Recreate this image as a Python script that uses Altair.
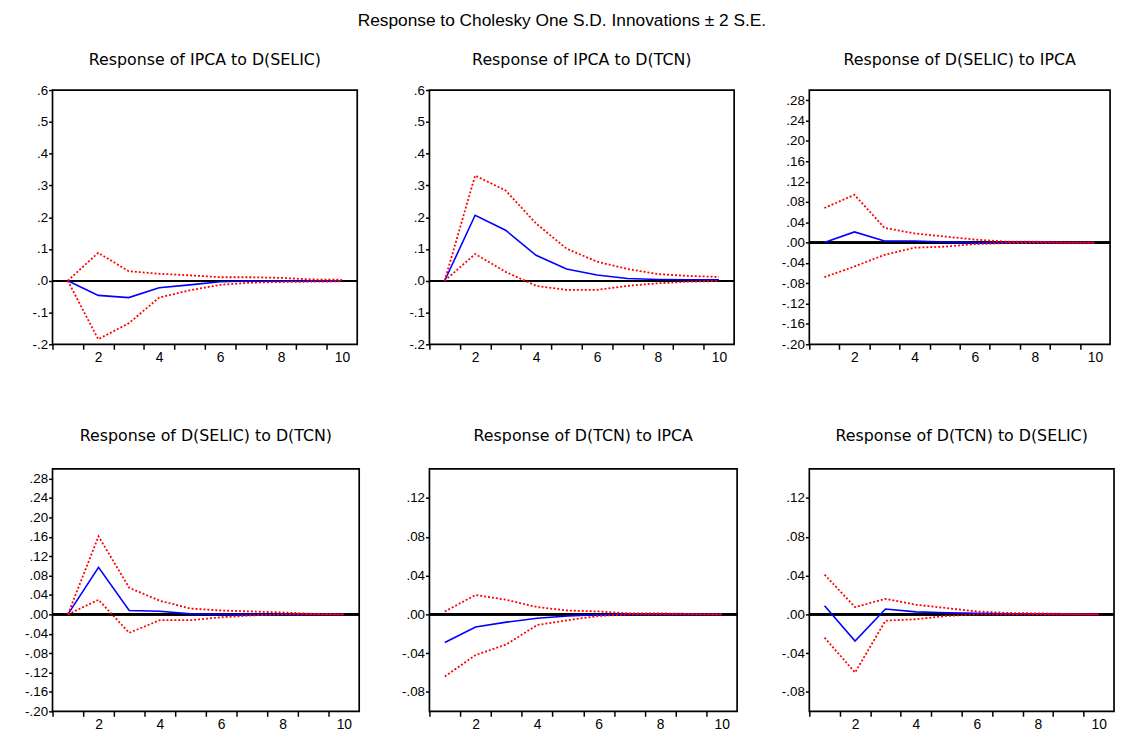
import altair as alt
import pandas as pd

steps = [1, 2, 3, 4, 5, 6, 7, 8, 9, 10]
x_tick_values = [0.5, 1.5, 2.5, 3.5, 4.5, 5.5, 6.5, 7.5, 8.5, 9.5]

main_title = "Response to Cholesky One S.D. Innovations \u00b1 2 S.E."

titles = [
    "Response of IPCA to D(SELIC)",
    "Response of IPCA to D(TCN)",
    "Response of D(SELIC) to IPCA",
    "Response of D(SELIC) to D(TCN)",
    "Response of D(TCN) to IPCA",
    "Response of D(TCN) to D(SELIC)",
]

# responses (blue) and +/- 2 S.E. bands (red, dotted)
resp_1 = [0.000, -0.046, -0.053, -0.022, -0.013, -0.003, -0.001, -0.001, 0.000, 0.000]
upper_1 = [0.000, 0.088, 0.030, 0.022, 0.017, 0.011, 0.011, 0.009, 0.004, 0.003]
lower_1 = [0.000, -0.184, -0.134, -0.053, -0.030, -0.013, -0.006, -0.004, -0.003, -0.002]

resp_2 = [0.000, 0.206, 0.159, 0.080, 0.037, 0.018, 0.007, 0.004, 0.003, 0.003]
upper_2 = [0.000, 0.331, 0.284, 0.180, 0.101, 0.060, 0.037, 0.021, 0.015, 0.012]
lower_2 = [0.000, 0.084, 0.028, -0.016, -0.029, -0.029, -0.016, -0.008, -0.003, -0.001]

resp_3 = [0.000, 0.021, 0.003, 0.003, 0.001, 0.000, 0.000, 0.000, 0.000, 0.000]
upper_3 = [0.068, 0.094, 0.029, 0.018, 0.012, 0.006, 0.002, 0.002, 0.000, 0.000]
lower_3 = [-0.068, -0.047, -0.024, -0.010, -0.008, -0.003, -0.001, 0.000, 0.000, 0.000]

resp_4 = [0.000, 0.097, 0.008, 0.0065, 0.001, 0.000, 0.000, 0.000, 0.000, 0.000]
upper_4 = [0.000, 0.161, 0.055, 0.028, 0.012, 0.008, 0.006, 0.004, 0.001, 0.000]
lower_4 = [0.000, 0.030, -0.038, -0.012, -0.012, -0.006, -0.002, 0.000, 0.000, 0.000]

resp_5 = [-0.029, -0.013, -0.008, -0.004, -0.0016, -0.0003, 0.000, 0.000, 0.000, 0.000]
upper_5 = [0.003, 0.020, 0.015, 0.0075, 0.004, 0.003, 0.001, 0.001, 0.0005, 0.000]
lower_5 = [-0.064, -0.042, -0.031, -0.011, -0.006, -0.0016, 0.000, 0.000, 0.000, 0.000]

resp_6 = [0.009, -0.0276, 0.0055, 0.0026, 0.0016, 0.001, 0.0005, 0.0003, 0.000, 0.000]
upper_6 = [0.041, 0.0075, 0.016, 0.010, 0.0065, 0.003, 0.0015, 0.001, 0.0005, 0.000]
lower_6 = [-0.024, -0.060, -0.0065, -0.005, -0.0016, 0.000, 0.000, 0.000, 0.000, 0.000]

yticks_a = [-0.2, -0.1, 0.0, 0.1, 0.2, 0.3, 0.4, 0.5, 0.6]
yticks_b = [-0.20, -0.16, -0.12, -0.08, -0.04, 0.00, 0.04, 0.08, 0.12, 0.16, 0.20, 0.24, 0.28]
yticks_c = [-0.08, -0.04, 0.00, 0.04, 0.08, 0.12]

ydom_a = [-0.2, 0.6]
ydom_b = [-0.2, 0.3]
ydom_c = [-0.1, 0.15]

panels = [
    dict(title=titles[0], resp=resp_1, upper=upper_1, lower=lower_1, dom=ydom_a, ticks=yticks_a, fmt=".1f", w=308, h=257, ext=44, toff=15),
    dict(title=titles[1], resp=resp_2, upper=upper_2, lower=lower_2, dom=ydom_a, ticks=yticks_a, fmt=".1f", w=308, h=257, ext=40, toff=15),
    dict(title=titles[2], resp=resp_3, upper=upper_3, lower=lower_3, dom=ydom_b, ticks=yticks_b, fmt=".2f", w=304, h=257, ext=43, toff=22),
    dict(title=titles[3], resp=resp_4, upper=upper_4, lower=lower_4, dom=ydom_b, ticks=yticks_b, fmt=".2f", w=310, h=245, ext=40, toff=25),
    dict(title=titles[4], resp=resp_5, upper=upper_5, lower=lower_5, dom=ydom_c, ticks=yticks_c, fmt=".2f", w=311, h=245, ext=38, toff=25),
    dict(title=titles[5], resp=resp_6, upper=upper_6, lower=lower_6, dom=ydom_c, ticks=yticks_c, fmt=".2f", w=308, h=245, ext=40, toff=25),
]

FONT = "Liberation Sans"
TFONT = "DejaVu Sans"


def make_panel(p):
    df = pd.DataFrame({"step": steps, "resp": p["resp"], "upper": p["upper"], "lower": p["lower"]})
    xscale = alt.Scale(domain=[0.5, 10.5], nice=False, zero=False)
    yscale = alt.Scale(domain=p["dom"], nice=False, zero=False)
    half = p["w"] / 20.0
    xaxis = alt.Axis(
        values=x_tick_values,
        labelExpr="(round(datum.value + 0.5) % 2 == 0) ? format(round(datum.value + 0.5), 'd') : ''",
        labelOffset=half,
        title=None, tickSize=5, labelPadding=1, labelFontSize=14,
        labelFlush=False, labelOverlap=False, labelAngle=0, grid=False,
    )
    yaxis = alt.Axis(
        values=p["ticks"],
        labelExpr="replace(replace(format(datum.value, '%s'), '\u2212', '-'), '0.', '.')" % p["fmt"],
        title=None, tickSize=4, labelPadding=1, labelFontSize=13.5, grid=False,
        minExtent=p["ext"], maxExtent=p["ext"], labelOverlap=False,
    )
    X = alt.X("step:Q", scale=xscale, axis=xaxis)
    base = alt.Chart(df)
    zero = base.mark_rule(color="black", strokeWidth=1.6).encode(
        y=alt.YDatum(0, scale=yscale, axis=yaxis)
    )
    blue = base.mark_line(color="#0000ff", strokeWidth=1.6).encode(
        x=X, y=alt.Y("resp:Q", scale=yscale, axis=yaxis)
    )
    up = base.mark_line(color="#ff0000", strokeWidth=1.8, strokeDash=[2, 2]).encode(
        x=X, y=alt.Y("upper:Q", scale=yscale, axis=yaxis)
    )
    lo = base.mark_line(color="#ff0000", strokeWidth=1.8, strokeDash=[2, 2]).encode(
        x=X, y=alt.Y("lower:Q", scale=yscale, axis=yaxis)
    )
    return alt.layer(zero, blue, up, lo).properties(
        width=p["w"], height=p["h"],
        title=alt.TitleParams(p["title"], font=TFONT, fontSize=16, fontWeight="normal",
                              color="black", offset=p["toff"], anchor="middle", frame="group"),
    )


row1 = alt.hconcat(*[make_panel(p) for p in panels[:3]], spacing=30)
row2 = alt.hconcat(*[make_panel(p) for p in panels[3:]], spacing=30)

chart = alt.vconcat(row1, row2, spacing=63).properties(
    title=alt.TitleParams(main_title, font=FONT, fontSize=17.5, fontWeight="normal",
                          color="black", anchor="middle", offset=22),
    padding={"left": 0, "top": 0, "right": 0, "bottom": 0},
    background="white",
).configure_view(
    stroke="black", strokeWidth=1.7
).configure_axis(
    grid=False, domain=False, tickColor="black", tickWidth=1.5,
    labelColor="black", labelFont=FONT,
)

chart.save("out.html", embed_options={"renderer": "svg", "actions": False})
